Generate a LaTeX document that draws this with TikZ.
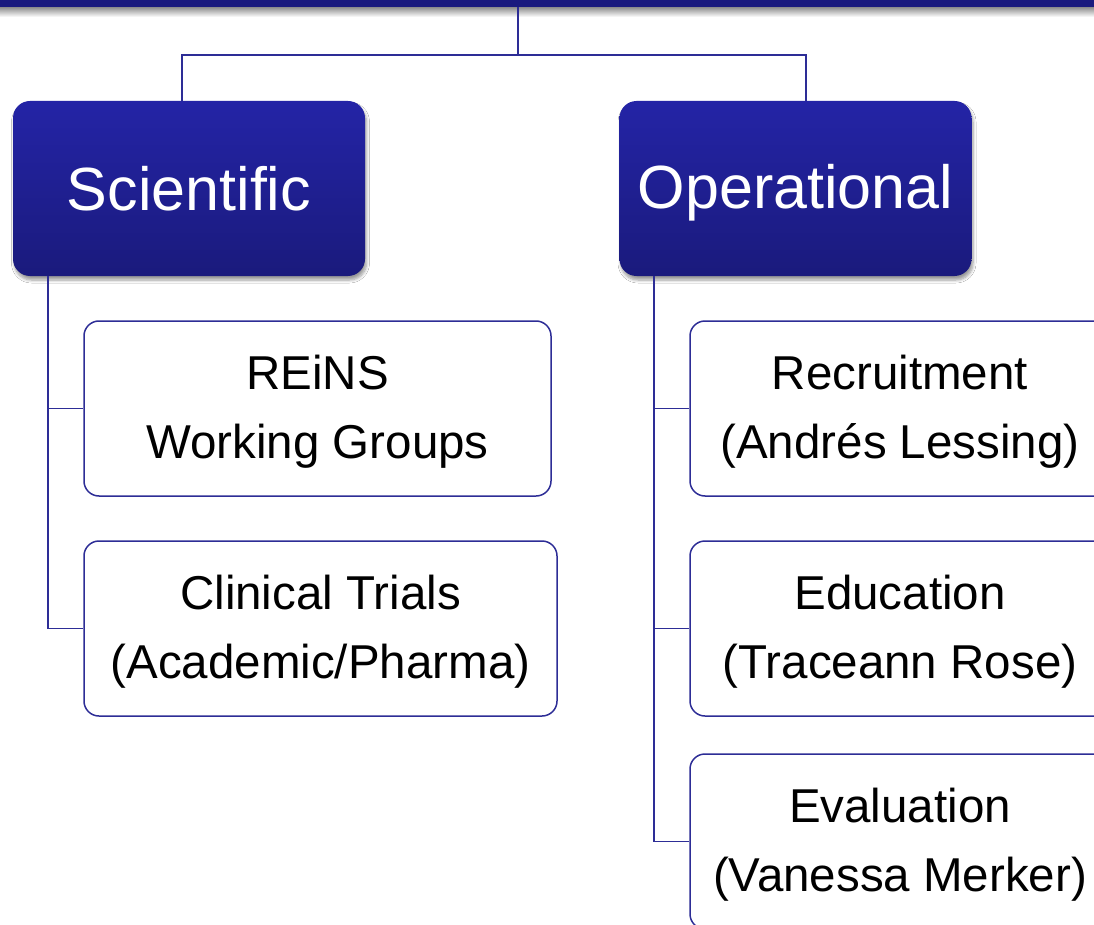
\documentclass[tikz,border=0pt]{standalone}
\usepackage{fontspec}
\setmainfont{Liberation Sans}
\usetikzlibrary{shadows.blur}
\definecolor{barblue}{RGB}{26,26,126}
\definecolor{linkblue}{RGB}{45,45,150}
\definecolor{topblue}{RGB}{36,36,166}
\definecolor{botblue}{RGB}{26,26,124}
\newcommand{\fl}{\rule{0pt}{41pt}}
\tikzset{
  conn/.style={draw=linkblue, line width=1.8pt},
  headbox/.style={rounded corners=17pt, top color=topblue, bottom color=botblue, draw=none,
    minimum width=352pt, minimum height=175pt, text=white, inner sep=0pt,
    font=\fontsize{61}{73}\selectfont,
    blur shadow={shadow xshift=1.5pt, shadow yshift=-4pt, shadow blur steps=6, shadow blur radius=3pt, shadow opacity=40}},
  subbox/.style={rounded corners=15pt, draw=linkblue, fill=white, line width=1.5pt,
    minimum height=175pt, text=black, inner sep=0pt, align=center,
    font=\fontsize{47.5}{69}\selectfont}
}
\begin{document}
\begin{tikzpicture}[x=1pt,y=-1pt]
\clip (0,0) rectangle (1094,925);
\fill[white] (0,0) rectangle (1094,925);
% top bar with shadow
\shade[top color=black!45, bottom color=white] (0,7) rectangle (1094,17);
\node[fill=barblue, minimum width=1094pt, minimum height=7pt, inner sep=0pt, anchor=north west] (bar) at (0,0) {};
\coordinate (t) at (518,7);
\coordinate (j) at (518,55);
% head boxes
\node[headbox] (sci) at (189,188.5) {Scientific};
\node[headbox] (ops) at (795.5,188.5) {\rule{0pt}{53pt}Operational};
% connectors
\draw[conn] (t) -- (j) -| ([xshift=-7pt]sci.north);
\draw[conn] (j) -| ([xshift=10.5pt]ops.north);
% sub boxes
\node[subbox, minimum width=467pt] (reins) at (317.5,408.5) {\fl REiNS\\Working Groups};
\node[subbox, minimum width=473pt] (clin) at (320.5,628.5) {\fl Clinical Trials\\(Academic/Pharma)};
\node[subbox, minimum width=420pt] (rec) at (900,408.5) {\fl Recruitment\\(Andrés Lessing)};
\node[subbox, minimum width=420pt] (edu) at (900,628.5) {\fl Education\\(Traceann Rose)};
\node[subbox, minimum width=420pt] (eva) at (900,841.5) {\fl Evaluation\\(Vanessa Merker)};
\draw[conn] ([xshift=35pt]sci.south west) |- (reins.west);
\draw[conn] ([xshift=35pt]sci.south west) |- (clin.west);
\draw[conn] ([xshift=35pt]ops.south west) |- (rec.west);
\draw[conn] ([xshift=35pt]ops.south west) |- (edu.west);
\draw[conn] ([xshift=35pt]ops.south west) |- (eva.west);
\end{tikzpicture}
\end{document}
